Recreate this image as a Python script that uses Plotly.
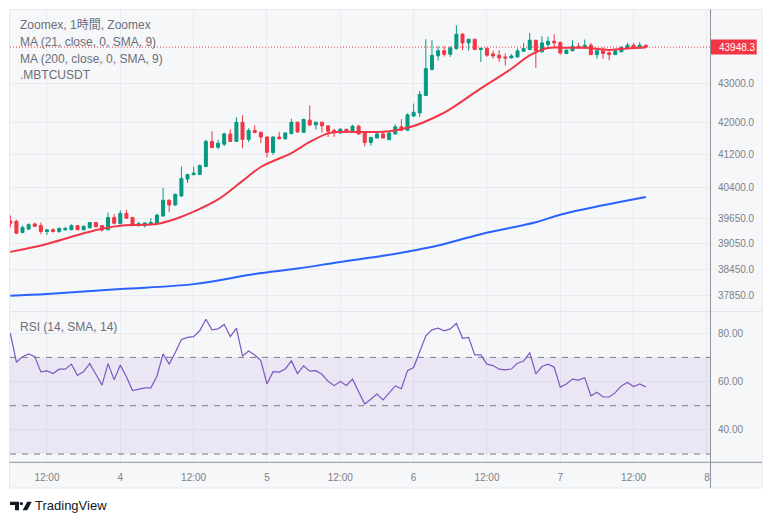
import math
import pandas as pd
import plotly.graph_objects as go

# ---------------- data ----------------
times = pd.date_range("2023-12-03 06:00", periods=105, freq="h")

opens = [39580, 39577, 39308, 39391, 39513, 39472, 39333, 39374, 39333, 39374,
         39374, 39472, 39374, 39423, 39545, 39472, 39374, 39667, 39520, 39763,
         39667, 39472, 39472, 39504, 39513, 39699, 40080, 39966, 40183, 40594,
         40700, 40707, 40901, 41524, 41379, 41455, 41710, 41524, 42008, 41575,
         41797, 41753, 41634, 41251, 41634, 41592, 41720, 42008, 41753, 42058,
         41940, 42008, 41915, 41805, 41737, 41830, 41753, 41906, 41735, 41498,
         41610, 41710, 41567, 41710, 41889, 41805, 42163, 42243, 42689, 43363,
         43720, 43853, 43760, 43908, 44290, 44060, 44158, 43885, 43920, 43768,
         43735, 43690, 43663, 43690, 43840, 43885, 44131, 43823, 44017, 44105,
         44070, 43780, 43850, 43972, 43927, 43999, 43750, 43850, 43800, 43750,
         43823, 43927, 43999, 43927, 43999]
highs = [39715, 39611, 39472, 39528, 39545, 39545, 39374, 39415, 39430, 39447,
         39505, 39485, 39480, 39560, 39560, 39480, 39787, 39747, 39836, 39852,
         39680, 39560, 39545, 39650, 39760, 40385, 40096, 40240, 40902, 40720,
         40901, 40950, 41567, 41779, 41567, 41745, 41830, 42134, 42184, 41855,
         41930, 41770, 41650, 41650, 41761, 41760, 42092, 42015, 42100, 42437,
         42020, 42015, 41920, 41840, 41860, 41840, 41940, 41945, 41740, 41630,
         41760, 41770, 41770, 41950, 42083, 42230, 42480, 42800, 44158, 44131,
         43972, 43972, 43972, 44529, 44325, 44158, 44160, 43925, 43925, 43850,
         43866, 43780, 43760, 43912, 44062, 44325, 44135, 44237, 44220, 44290,
         44100, 43900, 44131, 44060, 44150, 44060, 43880, 43940, 43840, 43900,
         43972, 44060, 44060, 44087, 44005]
lows = [39430, 39270, 39294, 39367, 39447, 39270, 39253, 39308, 39300, 39350,
        39367, 39365, 39360, 39400, 39430, 39333, 39374, 39504, 39504, 39640,
        39460, 39455, 39430, 39500, 39500, 39699, 39795, 39940, 40160, 40497,
        40690, 40690, 40885, 41360, 41327, 41404, 41510, 41510, 41353, 41506,
        41730, 41480, 41126, 41190, 41575, 41560, 41700, 41740, 41740, 41905,
        41823, 41750, 41634, 41634, 41720, 41740, 41740, 41700, 41396, 41420,
        41600, 41600, 41560, 41700, 41800, 41800, 42140, 42141, 42689, 43336,
        43601, 43700, 43690, 43883, 43868, 43850, 43880, 43560, 43690, 43648,
        43555, 43460, 43650, 43680, 43830, 43870, 43400, 43815, 43955, 43955,
        43750, 43760, 43840, 43920, 43920, 43740, 43648, 43640, 43600, 43740,
        43815, 43920, 43930, 43920, 43935]
closes = [39530, 39294, 39430, 39496, 39455, 39333, 39374, 39333, 39406, 39406,
          39472, 39374, 39455, 39545, 39447, 39367, 39667, 39528, 39763, 39650,
          39472, 39520, 39537, 39545, 39723, 40080, 39966, 40223, 40610, 40708,
          40740, 40925, 41524, 41371, 41481, 41710, 41524, 42008, 41575, 41797,
          41746, 41634, 41251, 41634, 41592, 41735, 42008, 41761, 42075, 41940,
          42008, 41915, 41780, 41746, 41830, 41753, 41906, 41710, 41498, 41626,
          41710, 41610, 41735, 41889, 41805, 42193, 42260, 42716, 43383, 43729,
          43853, 43760, 43927, 44288, 44060, 44158, 43885, 43920, 43735, 43715,
          43663, 43663, 43715, 43850, 43912, 44131, 43850, 44060, 44105, 44060,
          43795, 43866, 43972, 43927, 43999, 43750, 43850, 43780, 43750, 43850,
          43938, 43999, 43938, 43999, 43948.3]

rsi = [80.0, 68.0, 70.3, 71.4, 70.3, 64.0, 64.4, 63.3, 65.1, 65.1,
       67.2, 62.5, 64.1, 67.4, 63.0, 58.5, 67.4, 60.7, 66.8, 62.0,
       56.3, 56.7, 57.4, 57.4, 62.3, 71.4, 67.2, 72.0, 77.4, 78.3,
       78.6, 81.0, 85.8, 81.4, 81.8, 83.6, 78.6, 82.1, 70.6, 72.6,
       71.0, 68.7, 59.0, 64.1, 63.9, 65.2, 68.5, 63.3, 66.5, 64.3,
       64.5, 63.0, 60.1, 58.3, 60.0, 58.4, 61.0, 55.8, 50.7, 52.7,
       54.8, 52.4, 55.3, 58.2, 57.0, 64.5, 65.8, 72.0, 78.9, 81.4,
       82.1, 81.0, 81.8, 84.1, 77.9, 78.3, 71.0, 71.0, 67.2, 66.6,
       65.1, 64.8, 65.2, 67.6, 68.5, 72.0, 63.2, 66.2, 67.2, 65.9,
       57.7, 59.0, 61.0, 60.6, 61.6, 54.1, 55.6, 53.6, 53.6, 55.4,
       58.2, 59.6, 57.9, 59.0, 57.7]

ma21_idx = [0, 6, 12, 15, 18, 21, 24, 27, 30, 34, 38, 41, 46, 49, 52, 54, 58,
            61, 63, 66, 70, 72, 77, 82, 85, 88, 91, 94, 98, 101, 104]
ma21_val = [38854, 39040, 39290, 39400, 39472, 39489, 39513, 39630, 39805,
            40100, 40550, 40890, 41235, 41510, 41725, 41761, 41761, 41765,
            41800, 41910, 42170, 42340, 42870, 43380, 43730, 43925, 43930,
            43930, 43875, 43912, 43940]

ma200_idx = [0, 6, 18, 30, 40, 47, 54, 61, 66, 70, 77, 86, 90, 97, 104]
ma200_val = [37843, 37882, 37994, 38107, 38340, 38466, 38620, 38761, 38887,
             39003, 39270, 39553, 39732, 39957, 40158]

price_ticks = [43000, 42000, 41200, 40400, 39650, 39050, 38450, 37850]
price_tick_text = ["43000.0", "42000.0", "41200.0", "40400.0", "39650.0",
                   "39050.0", "38450.0", "37850.0"]
rsi_ticks = [80, 60, 40]
rsi_tick_text = ["80.00", "60.00", "40.00"]
rsi_levels = [70, 50, 30]
x_tick_times = ["2023-12-03 12:00", "2023-12-04 00:00", "2023-12-04 12:00",
                "2023-12-05 00:00", "2023-12-05 12:00", "2023-12-06 00:00",
                "2023-12-06 12:00", "2023-12-07 00:00", "2023-12-07 12:00",
                "2023-12-08 00:00"]
x_tick_labels = ["12:00", "4", "12:00", "5", "12:00", "6", "12:00", "7",
                 "12:00", "8"]
last_price = 43948.3
legend_lines = ["Zoomex, 1時間, Zoomex", "MA (21, close, 0, SMA, 9)",
                "MA (200, close, 0, SMA, 9)", ".MBTCUSDT"]
rsi_title = "RSI (14, SMA, 14)"

# ---------------- layout geometry ----------------
W, H = 772, 523
ML, MR, MT, MB = 10, 62, 10, 61
PW, PH = W - ML - MR, H - MT - MB
SPLIT = (H - MB - 311.7) / PH
X_RANGE = ["2023-12-03 05:57", "2023-12-08 00:30"]
P_RANGE = [math.log10(37480), math.log10(44941)]
R_RANGE = [26.7, 88.9]


def px_x(px):
    return (px - ML) / PW


def px_y(py):
    return (H - MB - py) / PH


def price_paper(v):
    f = (math.log10(v) - P_RANGE[0]) / (P_RANGE[1] - P_RANGE[0])
    return SPLIT + f * (1 - SPLIT)


GREEN = "#089981"
RED = "#f23645"
BLUE = "#2962ff"
PURPLE = "#7e57c2"
GRID = "#e9ebef"
TXT = "#7d808a"
FONT = "Liberation Sans, Noto Sans CJK JP, sans-serif"

fig = go.Figure()

# RSI band
fig.add_trace(go.Scatter(x=[X_RANGE[0], X_RANGE[1]], y=[rsi_levels[2]] * 2,
                         mode="lines", line=dict(width=0), xaxis="x2", yaxis="y2",
                         hoverinfo="skip", showlegend=False))
fig.add_trace(go.Scatter(x=[X_RANGE[0], X_RANGE[1]], y=[rsi_levels[0]] * 2,
                         mode="lines", line=dict(width=0), fill="tonexty",
                         fillcolor="rgba(126,87,194,0.10)", xaxis="x2", yaxis="y2",
                         hoverinfo="skip", showlegend=False))
for lv in rsi_levels:
    fig.add_trace(go.Scatter(x=[X_RANGE[0], X_RANGE[1]], y=[lv, lv], mode="lines",
                             line=dict(color="#787b86", width=1, dash="6px,6px"),
                             xaxis="x2", yaxis="y2", hoverinfo="skip",
                             showlegend=False))
fig.add_trace(go.Scatter(x=times, y=rsi, mode="lines",
                         line=dict(color=PURPLE, width=1.2), xaxis="x2",
                         yaxis="y2", hoverinfo="skip", showlegend=False))

# Price pane
fig.add_trace(go.Scatter(x=[X_RANGE[0], X_RANGE[1]], y=[last_price] * 2,
                         mode="lines", line=dict(color=RED, width=1, dash="1px,2px"),
                         hoverinfo="skip", showlegend=False))
fig.add_trace(go.Candlestick(
    x=times, open=opens, high=highs, low=lows, close=closes,
    increasing=dict(line=dict(color=GREEN, width=1), fillcolor=GREEN),
    decreasing=dict(line=dict(color=RED, width=1), fillcolor=RED),
    whiskerwidth=0, hoverinfo="skip", showlegend=False))
fig.add_trace(go.Scatter(x=[times[i] for i in ma200_idx], y=ma200_val,
                         mode="lines", line=dict(color=BLUE, width=2, shape="spline"),
                         hoverinfo="skip", showlegend=False))
fig.add_trace(go.Scatter(x=[times[i] for i in ma21_idx], y=ma21_val,
                         mode="lines", line=dict(color=RED, width=2, shape="spline"),
                         hoverinfo="skip", showlegend=False))

shapes = [
    # panel background
    dict(type="rect", xref="paper", yref="paper", x0=px_x(9.5), x1=px_x(762),
         y0=px_y(488), y1=px_y(9.5), fillcolor="#f6f7f9",
         line=dict(color="#e6e8ee", width=1), layer="below"),
    # pane separator
    dict(type="line", xref="paper", yref="paper", x0=px_x(9.5), x1=px_x(762),
         y0=SPLIT, y1=SPLIT, line=dict(color="#dfe1e7", width=1)),
    # price scale border
    dict(type="line", xref="paper", yref="paper", x0=px_x(710.5), x1=px_x(710.5),
         y0=px_y(488), y1=px_y(9.5), line=dict(color="#8d9099", width=1)),
    # time scale border
    dict(type="line", xref="paper", yref="paper", x0=px_x(9.5), x1=px_x(762),
         y0=px_y(462.3), y1=px_y(462.3), line=dict(color="#8d9099", width=1)),
    # last price label
    dict(type="rect", xref="paper", yref="paper", x0=px_x(711), x1=px_x(756.7),
         y0=price_paper(last_price) - 7.5 / PH, y1=price_paper(last_price) + 7.5 / PH,
         fillcolor=RED, line=dict(width=0)),
]


def path(points):
    s = "M" + " L".join(f"{px_x(a):.5f},{px_y(b):.5f}" for a, b in points)
    return s + " Z"


shapes.append(dict(type="path", xref="paper", yref="paper",
                   path=path([(10, 501.7), (19, 501.7), (19, 510.3), (15, 510.3),
                              (15, 505), (10, 505)]),
                   fillcolor="#131722", line=dict(width=0)))
shapes.append(dict(type="circle", xref="paper", yref="paper",
                   x0=px_x(19.8), x1=px_x(23.0), y0=px_y(505.2), y1=px_y(502.0),
                   fillcolor="#131722", line=dict(width=0)))
shapes.append(dict(type="path", xref="paper", yref="paper",
                   path=path([(27.2, 501.7), (31.8, 501.7), (27.2, 510.3),
                              (22.6, 510.3)]),
                   fillcolor="#131722", line=dict(width=0)))

annotations = []
for k, t in enumerate(legend_lines):
    annotations.append(dict(text=t, xref="paper", yref="paper", x=px_x(18),
                            y=px_y(25 + 16.8 * k), xanchor="left", yanchor="middle",
                            showarrow=False,
                            font=dict(family=FONT, size=12, color="#6b6e79")))
annotations.append(dict(text=rsi_title, xref="paper", yref="paper", x=px_x(18),
                        y=px_y(326.7), xanchor="left", yanchor="middle",
                        showarrow=False,
                        font=dict(family=FONT, size=12, color="#6b6e79")))
annotations.append(dict(text=f"{last_price:.1f}", xref="paper", yref="paper",
                        x=px_x(716.5), y=price_paper(last_price), xanchor="left",
                        yanchor="middle", showarrow=False,
                        font=dict(family=FONT, size=10, color="white")))
annotations.append(dict(text="TradingView", xref="paper", yref="paper",
                        x=px_x(33), y=px_y(506), xanchor="left", yanchor="middle",
                        showarrow=False,
                        font=dict(family=FONT, size=13, color="#131722")))

fig.update_layout(
    width=W, height=H,
    margin=dict(l=ML, r=MR, t=MT, b=MB, pad=0),
    paper_bgcolor="white",
    plot_bgcolor="rgba(0,0,0,0)",
    showlegend=False,
    hovermode=False,
    boxgap=0.3,
    font=dict(family=FONT, size=10, color=TXT),
    xaxis=dict(domain=[0, 1], anchor="y", range=X_RANGE, type="date",
               tickvals=x_tick_times, ticktext=x_tick_labels,
               showticklabels=False, showgrid=True, gridcolor=GRID,
               zeroline=False, showline=False, rangeslider=dict(visible=False),
               fixedrange=True),
    yaxis=dict(domain=[SPLIT, 1], anchor="x", side="right", type="log",
               range=P_RANGE, tickvals=price_ticks, ticktext=price_tick_text,
               showgrid=True, gridcolor=GRID, zeroline=False, showline=False,
               ticks="outside", ticklen=5, tickcolor="rgba(0,0,0,0)",
               tickfont=dict(family=FONT, size=10, color=TXT)),
    xaxis2=dict(domain=[0, 1], anchor="y2", range=X_RANGE, type="date",
                matches="x", tickvals=x_tick_times, ticktext=x_tick_labels,
                showgrid=True, gridcolor=GRID, zeroline=False, showline=False,
                ticks="outside", ticklen=6, tickcolor="rgba(0,0,0,0)",
                tickfont=dict(family=FONT, size=10, color=TXT)),
    yaxis2=dict(domain=[0, SPLIT], anchor="x2", side="right", range=R_RANGE,
                tickvals=rsi_ticks, ticktext=rsi_tick_text, showgrid=True,
                gridcolor=GRID, zeroline=False, showline=False,
                ticks="outside", ticklen=5, tickcolor="rgba(0,0,0,0)",
                tickfont=dict(family=FONT, size=10, color=TXT)),
    shapes=shapes,
    annotations=annotations,
)

fig.write_html("out.html")
